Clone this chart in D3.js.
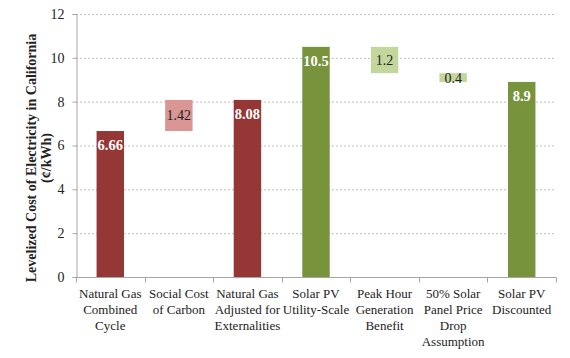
<!DOCTYPE html>
<html><head><meta charset="utf-8">
<script src="https://cdn.jsdelivr.net/npm/d3@7/dist/d3.min.js"></script>
<style>body{margin:0;background:#fff}svg{display:block}</style>
</head><body><svg id="c" width="570" height="358"></svg>
<script>
const categories = [
  ["Natural Gas","Combined","Cycle"],
  ["Social Cost","of Carbon"],
  ["Natural Gas","Adjusted for","Externalities"],
  ["Solar PV","Utility-Scale"],
  ["Peak Hour","Generation","Benefit"],
  ["50% Solar","Panel Price","Drop","Assumption"],
  ["Solar PV","Discounted"]
];
const barStart = [0, 6.66, 0, 0, 9.3, 8.9, 0];
const barEnd   = [6.66, 8.08, 8.08, 10.5, 10.5, 9.3, 8.9];
const labels   = ["6.66","1.42","8.08","10.5","1.2","0.4","8.9"];
const kinds    = ["total","delta","total","total","delta","delta","total"];
const groups   = ["gas","gas","gas","solar","solar","solar","solar"];
const yTicks   = [0,2,4,6,8,10,12];

const colors = {gas:{total:"#953735",delta:"#d99694"}, solar:{total:"#77933c",delta:"#c3d69b"}};
const font = "'Liberation Serif','DejaVu Serif',serif";

const svg = d3.select("#c");
const x0 = 76, x1 = 556, yTop = 14, yBot = 277;
const x = d3.scaleBand().domain(d3.range(categories.length)).range([x0,x1]).paddingInner(0.6).paddingOuter(0.3);
const y = d3.scaleLinear().domain([0,12]).range([yBot,yTop]);

// grid
svg.append("g").selectAll("line").data(yTicks.filter(d=>d>0)).join("line")
  .attr("x1",x0).attr("x2",x1).attr("y1",d=>y(d)+0.5).attr("y2",d=>y(d)+0.5)
  .attr("stroke","#bfbfbf").attr("stroke-dasharray","2,2");

// y axis
const ya = svg.append("g").attr("transform",`translate(${x0+0.5},0)`)
  .call(d3.axisLeft(y).tickValues(yTicks).tickSize(4).tickPadding(8).tickFormat(d3.format("d")));
ya.select(".domain").attr("stroke","#a6a6a6");
ya.selectAll(".tick line").attr("stroke","#a6a6a6");
ya.selectAll("text").attr("font-family",font).attr("font-size",14).attr("fill","#222");

// x axis
const xa = svg.append("g").attr("transform",`translate(0,${yBot+0.5})`);
xa.append("line").attr("x1",x0).attr("x2",x1).attr("stroke","#a6a6a6");
const bounds = d3.range(categories.length+1).map(i=>x0 + i*(x1-x0)/categories.length);
xa.selectAll("line.t").data(bounds).join("line").attr("class","t")
  .attr("x1",d=>Math.round(d)+0.5).attr("x2",d=>Math.round(d)+0.5).attr("y1",0).attr("y2",5).attr("stroke","#a6a6a6");

// x labels
categories.forEach((lines,i)=>{
  const cx = x(i)+x.bandwidth()/2;
  const t = svg.append("text").attr("x",cx).attr("y",298).attr("text-anchor","middle")
    .attr("font-family",font).attr("font-size",13).attr("fill","#222");
  lines.forEach((l,j)=>t.append("tspan").attr("x",cx).attr("dy",j===0?0:16).text(l));
});

// bars
svg.append("g").selectAll("rect").data(categories.map((c,i)=>i)).join("rect")
  .attr("x",i=>x(i)).attr("width",x.bandwidth())
  .attr("y",i=>y(barEnd[i])).attr("height",i=>y(barStart[i])-y(barEnd[i]))
  .attr("fill",i=>colors[groups[i]][kinds[i]]);

// value labels
categories.forEach((c,i)=>{
  const cx = x(i)+x.bandwidth()/2;
  if(kinds[i]==="total"){
    svg.append("text").attr("x",cx).attr("y",y(barEnd[i])+19).attr("text-anchor","middle")
      .attr("font-family",font).attr("font-size",14.5).attr("font-weight","bold").attr("fill","#fff").text(labels[i]);
  } else {
    const cy = (y(barStart[i])+y(barEnd[i]))/2;
    svg.append("text").attr("x",cx).attr("y",cy+5).attr("text-anchor","middle")
      .attr("font-family",font).attr("font-size",14).attr("fill","#222").text(labels[i]);
  }
});

// y title
svg.append("text").attr("transform","translate(36,158) rotate(-90)").attr("text-anchor","middle")
  .attr("font-family",font).attr("font-size",14).attr("font-weight","bold").attr("fill","#222")
  .call(t=>{
    t.append("tspan").attr("x",0).attr("dy",0).text("Levelized Cost of Electricity in California");
    t.append("tspan").attr("x",0).attr("dy",15).text("(¢/kWh)");
  });
</script></body></html>
